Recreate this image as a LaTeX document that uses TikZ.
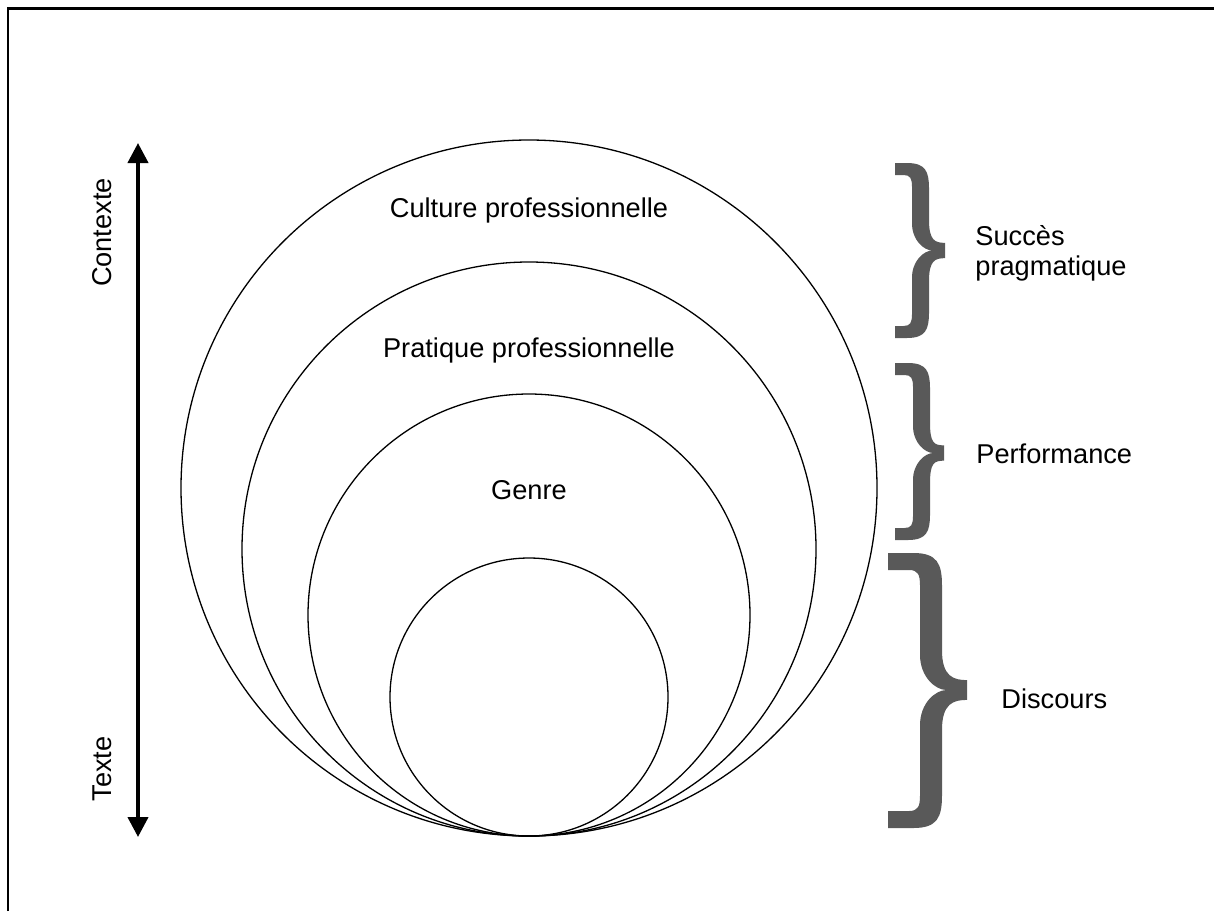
\documentclass[tikz,border=0pt]{standalone}
\usepackage{fontspec}
\setmainfont{Liberation Sans}
\usetikzlibrary{arrows.meta}
\definecolor{bracecol}{HTML}{595959}
\newcommand{\drawbrace}[8]{%
  \pgfmathsetmacro{\brw}{#3-#2}%
  \pgfmathsetmacro{\brk}{0.45*\brw}%
  \fill[bracecol] (#1,#5) -- ({#2-0.3*\brw},#5)
    .. controls ({#3-0.2*\brw},#5) and (#3,{#5+0.5*\brw}) .. (#3,{#5+1.5*\brw})
    -- (#3,{#6-1.8*\brw})
    .. controls (#3,{#6-0.6*\brw}) and ({#4-0.6*\brw},{#6-\brk}) .. (#4,{#6-\brk})
    -- (#4,{#6+\brk})
    .. controls ({#4-0.6*\brw},{#6+\brk}) and (#3,{#6+0.6*\brw}) .. (#3,{#6+1.8*\brw})
    -- (#3,{#7-1.5*\brw})
    .. controls (#3,{#7-0.5*\brw}) and ({#3-0.2*\brw},#7) .. ({#2-0.3*\brw},#7)
    -- (#1,#7) -- (#1,{#7-#8}) -- ({#2-0.5*\brw},{#7-#8})
    .. controls ({#2-0.1*\brw},{#7-#8}) and (#2,{#7-#8-0.2*\brw}) .. (#2,{#7-#8-0.7*\brw})
    -- (#2,{#6+1.6*\brw})
    .. controls (#2,{#6+0.6*\brw}) and ({#3-0.3*\brw},#6) .. ({#3+0.2*\brw},#6)
    .. controls ({#3-0.3*\brw},#6) and (#2,{#6-0.6*\brw}) .. (#2,{#6-1.6*\brw})
    -- (#2,{#5+#8+0.7*\brw})
    .. controls (#2,{#5+#8+0.2*\brw}) and ({#2-0.1*\brw},{#5+#8}) .. ({#2-0.5*\brw},{#5+#8})
    -- (#1,{#5+#8}) -- cycle;%
}
\begin{document}
\begin{tikzpicture}[x=0.5pt,y=-0.5pt,
  ring/.style={circle,draw=black,line width=0.65pt,inner sep=0pt},
  lbl/.style={font=\fontsize{13.6}{15.5}\selectfont,inner sep=0pt,text=black},
  dblarrow/.style={line width=2pt,{Triangle[width=10pt,length=10pt]}-{Triangle[width=10pt,length=10pt]}}]
\useasboundingbox (0,0) rectangle (1214,911);
\fill[white] (0,0) rectangle (1214,911);
% frame (top and left edges)
\draw[line width=1.35pt] (8,911) -- (8,8.7) -- (1214,8.7);
% nested circles, tangent at the bottom
\node[ring,minimum size=348pt] (c1) at (529,488) {};
\node[ring,minimum size=287pt] (c2) at (529,549) {};
\node[ring,minimum size=221pt] (c3) at (529,615) {};
\node[ring,minimum size=139pt] (c4) at (529,697) {};
% circle labels
\node[lbl,anchor=base] (tculture) at (529,217) {Culture professionnelle};
\node[lbl,anchor=base] (tpratique) at (529,357.5) {Pratique professionnelle};
\node[lbl,anchor=base] (tgenre) at (529,499) {Genre};
% axis arrow
\coordinate (atop) at (138,143);
\coordinate (abot) at (138,837);
\draw[dblarrow] (atop) -- (abot);
\node[lbl,anchor=base,rotate=90] (tcontexte) at (111,232.5) {Contexte};
\node[lbl,anchor=base,rotate=90] (ttexte) at (111,769) {Texte};
% braces
\drawbrace{895}{912}{929}{945}{163}{250.5}{338}{12}
\drawbrace{895}{913}{930}{944}{363}{453}{540}{12}
\drawbrace{888}{920}{942}{967}{553}{690}{828}{17}
% brace labels
\node[lbl,anchor=base west,align=left] (tsucces) at (975,275) {Succès\\[-0.5pt]pragmatique};
\node[lbl,anchor=base west] (tperf) at (976,463) {Performance};
\node[lbl,anchor=base west] (tdisc) at (1001,708) {Discours};
\end{tikzpicture}
\end{document}
